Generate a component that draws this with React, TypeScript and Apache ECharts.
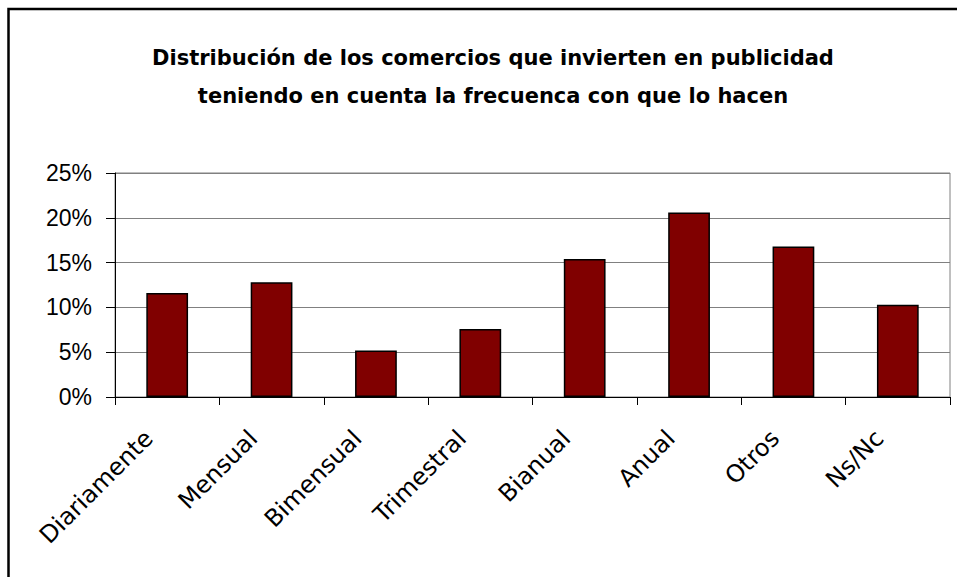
import React, { useEffect, useRef } from "react";
import * as echarts from "echarts";

const categories = ["Diariamente", "Mensual", "Bimensual", "Trimestral", "Bianual", "Anual", "Otros", "Ns/Nc"];
const values = [11.6, 12.8, 5.2, 7.6, 15.4, 20.6, 16.8, 10.3];
const yTicks = { min: 0, max: 25, interval: 5 };
const titleLines = [
  "Distribución de los comercios que invierten en publicidad",
  "teniendo en cuenta la frecuenca con que lo hacen",
];

export default function App() {
  const ref = useRef<HTMLDivElement>(null);
  useEffect(() => {
    if (!ref.current) return;
    const chart = echarts.init(ref.current, null, { renderer: "svg" });
    chart.setOption({
      animation: false,
      backgroundColor: "#ffffff",
      title: {
        text: titleLines.join("\n"),
        left: 488,
        top: 34,
        textAlign: "center",
        textStyle: {
          fontFamily: "DejaVu Sans",
          fontWeight: "bold",
          fontSize: 21,
          lineHeight: 38,
          color: "#000000",
        },
      },
      graphic: [
        {
          type: "rect",
          shape: { x: 8.5, y: 9, width: 1000, height: 1000 },
          style: { fill: "none", stroke: "#000000", lineWidth: 2.5 },
          silent: true,
          z: 100,
        },
      ],
      grid: {
        left: 115,
        right: 7,
        top: 173,
        bottom: 180,
        show: true,
        borderColor: "#808080",
        borderWidth: 1,
        backgroundColor: "#ffffff",
      },
      xAxis: {
        type: "category",
        data: categories,
        axisLine: { lineStyle: { color: "#000000", width: 1 } },
        axisTick: { show: true, length: 8, lineStyle: { color: "#000000" } },
        axisLabel: {
          rotate: 45,
          interval: 0,
          margin: 19,
          padding: [0, 26, 0, 0],
          fontFamily: "DejaVu Sans",
          fontSize: 24,
          color: "#000000",
        },
      },
      yAxis: {
        type: "value",
        min: yTicks.min,
        max: yTicks.max,
        interval: yTicks.interval,
        axisLine: { show: true, lineStyle: { color: "#000000", width: 1 } },
        axisTick: { show: true, length: 9, lineStyle: { color: "#000000" } },
        splitLine: { show: true, lineStyle: { color: "#808080", width: 1 } },
        axisLabel: {
          formatter: "{value}%",
          margin: 23,
          fontFamily: "Liberation Sans",
          fontSize: 23,
          color: "#000000",
        },
      },
      series: [
        {
          type: "bar",
          data: values,
          barWidth: "40%",
          itemStyle: { color: "#800000", borderColor: "#000000", borderWidth: 1.5 },
        },
      ],
    });
    return () => chart.dispose();
  }, []);
  return (
    <div
      ref={ref}
      style={{ position: "absolute", left: 0, top: 0, width: 957, height: 577 }}
    />
  );
}
